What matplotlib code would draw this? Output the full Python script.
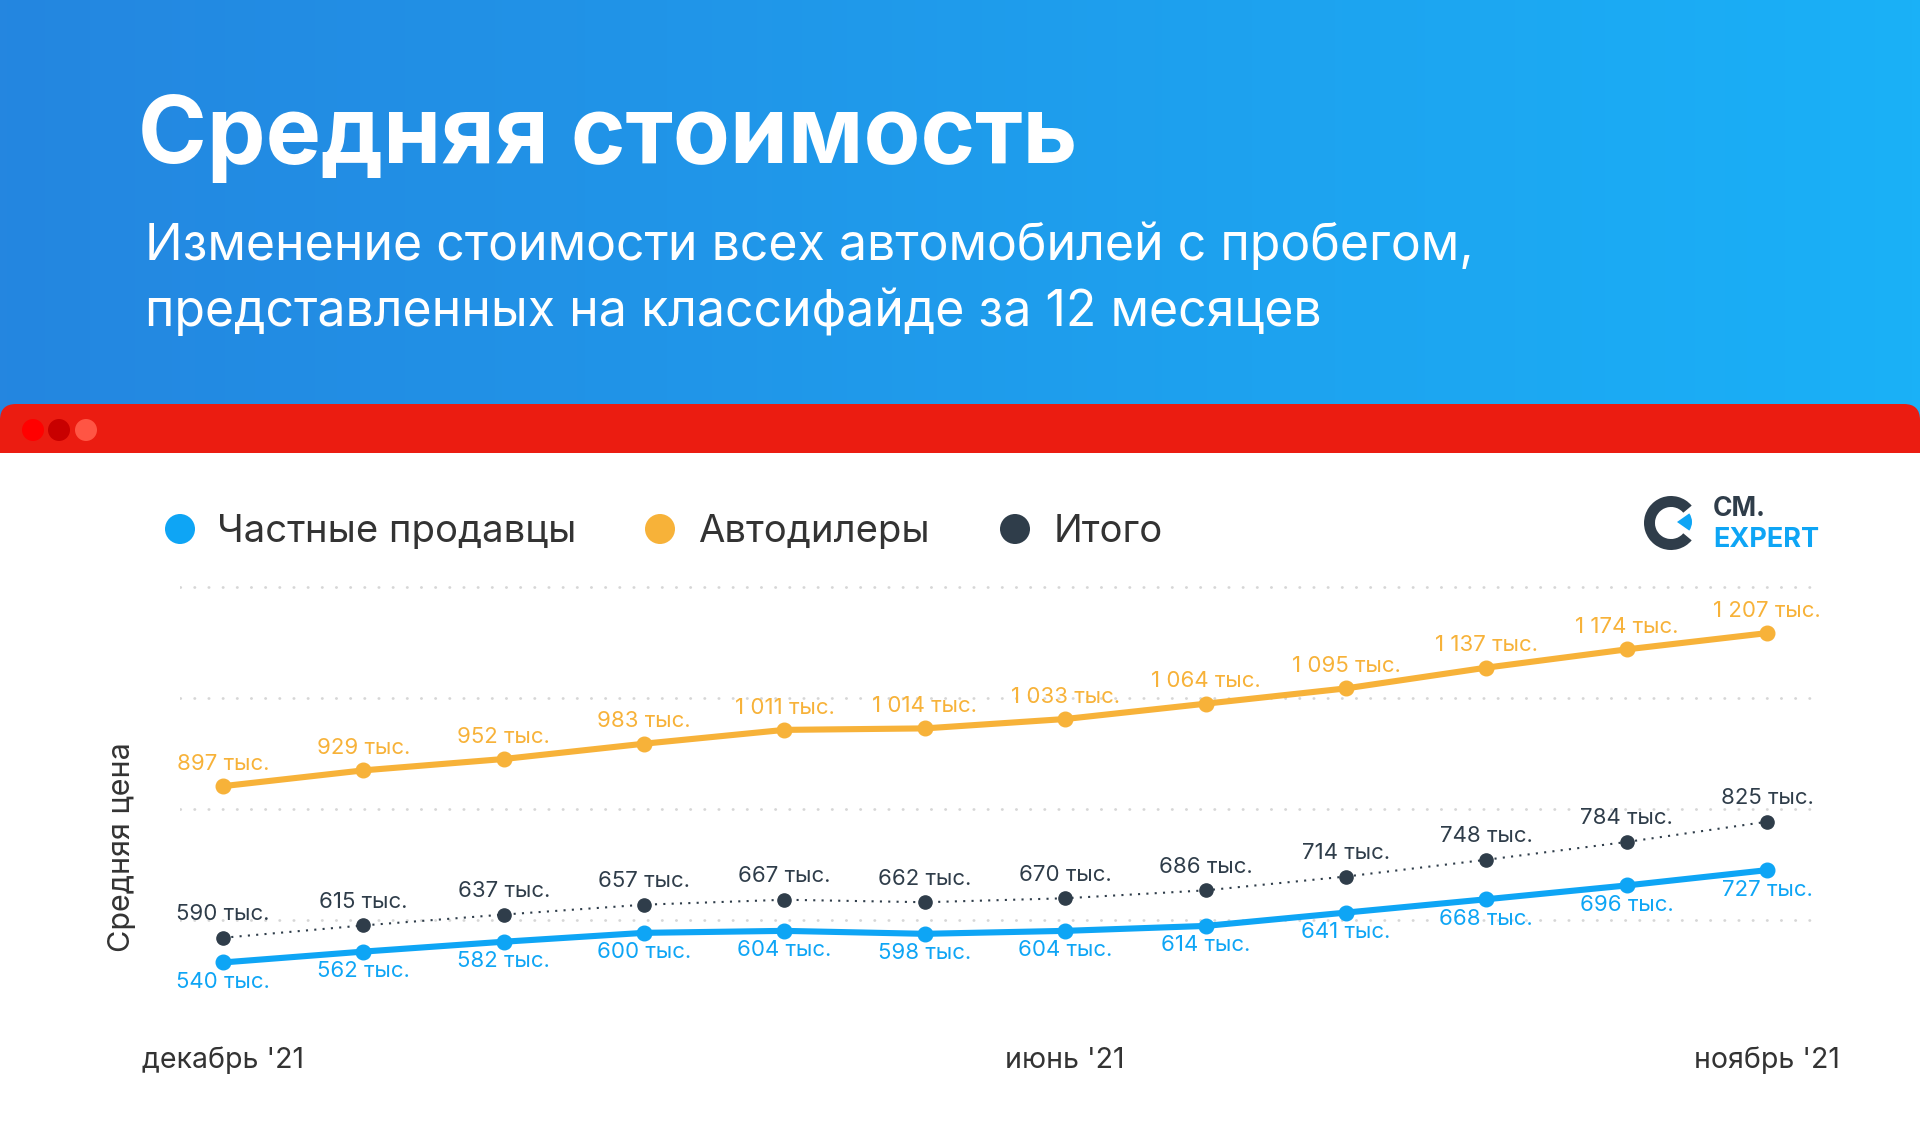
import numpy as np
import matplotlib
matplotlib.use("Agg")
import matplotlib.pyplot as plt
from matplotlib.patches import FancyBboxPatch, Rectangle, Circle, Wedge

plt.rcParams['font.family'] = ['Inter', 'DejaVu Sans']

# data (тыс. руб.)
months = ["декабрь '21", "янв", "фев", "мар", "апр", "май", "июнь '21",
          "июл", "авг", "сен", "окт", "ноябрь '21"]
private = [540, 562, 582, 600, 604, 598, 604, 614, 641, 668, 696, 727]
dealers = [897, 929, 952, 983, 1011, 1014, 1033, 1064, 1095, 1137, 1174, 1207]
total = [590, 615, 637, 657, 667, 662, 670, 686, 714, 748, 784, 825]
shown_months = [0, 6, 11]
grid_vals = [625, 850, 1075, 1300]

series_names = ["Частные продавцы", "Автодилеры", "Итого"]
C_BLUE = "#0ea5f5"
C_ORANGE = "#f7b239"
C_DARK = "#2f3d4a"
C_TEXT = "#333333"

W, H = 1920, 1148
fig = plt.figure(figsize=(W / 100, H / 100), dpi=100)

# background layer in pixel coords
bg = fig.add_axes([0, 0, 1, 1])
bg.set_xlim(0, W)
bg.set_ylim(H, 0)
bg.axis("off")

grad = np.linspace(0, 1, 256).reshape(1, -1)
c0 = np.array([0x24, 0x86, 0xe0]) / 255
c1 = np.array([0x1a, 0xb1, 0xf7]) / 255
img = c0[None, None, :] * (1 - grad[..., None]) + c1[None, None, :] * grad[..., None]
bg.imshow(img, extent=[0, W, 420, 0], aspect="auto", zorder=0)

bg.add_patch(FancyBboxPatch((0, 404), W, 80, boxstyle="round,pad=0,rounding_size=16",
                            fc="#eb1c11", ec="none", zorder=1))
bg.add_patch(Rectangle((0, 453), W, H - 453, fc="white", ec="none", zorder=2))
for x, c in zip([33, 59, 86], ["#ff0000", "#c80000", "#ff5544"]):
    bg.add_patch(Circle((x, 430), 11, fc=c, ec="none", zorder=3))

bg.text(138, 163, "Средняя стоимость", color="white", fontsize=67,
        fontweight="bold", va="baseline", ha="left", zorder=3)
bg.text(145, 260, "Изменение стоимости всех автомобилей с пробегом,", color="white",
        fontsize=36, va="baseline", ha="left", zorder=3)
bg.text(145, 326, "представленных на классифайде за 12 месяцев", color="white",
        fontsize=36, va="baseline", ha="left", zorder=3)

# legend
for name, c, xd, xt in zip(series_names, [C_BLUE, C_ORANGE, C_DARK],
                           [180, 660, 1015], [217, 698, 1054]):
    bg.add_patch(Circle((xd, 529), 15, fc=c, ec="none", zorder=3))
    bg.text(xt, 542, name, color=C_TEXT, fontsize=27.5, va="baseline", ha="left", zorder=3)

# logo
bg.add_patch(Wedge((1671, 523), 27, 40, 320, width=11, fc=C_DARK, ec="none", zorder=3))
bg.add_patch(Wedge((1677, 522), 15, -35, 35, fc=C_BLUE, ec="none", zorder=3))
bg.text(1713, 516, "CM.", color=C_DARK, fontsize=19, fontweight="bold",
        va="baseline", ha="left", zorder=3)
bg.text(1713, 547, "EXPERT", color=C_BLUE, fontsize=19.5, fontweight="bold",
        va="baseline", ha="left", zorder=3)

bg.text(122, 847, "Средняя цена", color=C_TEXT, fontsize=22, rotation=90,
        va="center", ha="center", zorder=3)

# chart
ax = fig.add_axes([180 / W, 1 - 1000 / H, (1812 - 180) / W, 440 / H])
ax.patch.set_alpha(0)
x = np.arange(len(months))
ax.set_xlim(-0.306, 11.32)
ax.set_ylim(464, 1355)
for s in ax.spines.values():
    s.set_visible(False)
ax.set_yticks(grid_vals)
ax.set_yticklabels([])
ax.tick_params(left=False, bottom=False)
ax.yaxis.grid(True, color="#d6d6d6", linewidth=2, linestyle=(0, (0.1, 5)),
              dash_capstyle="round")
ax.set_axisbelow(True)
ax.set_xticks(shown_months)
ax.set_xticklabels([months[i] for i in shown_months], fontsize=20.5, color=C_TEXT)
ax.tick_params(axis="x", pad=30)


def fmt(v):
    return f"{v:,}".replace(",", " ") + " тыс."


ax.plot(x, dealers, color=C_ORANGE, lw=4.4, marker="o", ms=10.5, zorder=3,
        solid_capstyle="round")
ax.plot(x, private, color=C_BLUE, lw=4.4, marker="o", ms=10.5, zorder=3,
        solid_capstyle="round")
ax.plot(x, total, color=C_DARK, lw=1.5, linestyle=(0, (1, 3)), marker="o", ms=9.5,
        zorder=3)

for xi, v in zip(x, dealers):
    ax.annotate(fmt(v), (xi, v), xytext=(0, 16), textcoords="offset points",
                ha="center", va="center", fontsize=16, color=C_ORANGE)
for xi, v in zip(x, private):
    ax.annotate(fmt(v), (xi, v), xytext=(0, -14), textcoords="offset points",
                ha="center", va="center", fontsize=16, color=C_BLUE)
for xi, v in zip(x, total):
    ax.annotate(fmt(v), (xi, v), xytext=(0, 17), textcoords="offset points",
                ha="center", va="center", fontsize=16, color=C_DARK)

fig.savefig("out.png", dpi=100)
